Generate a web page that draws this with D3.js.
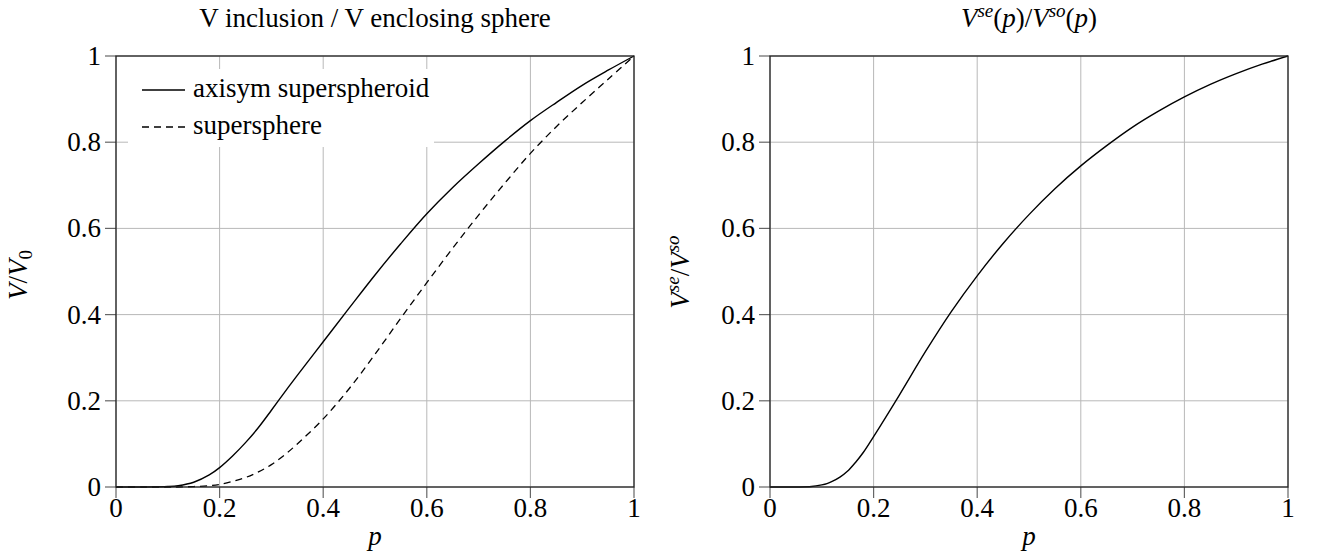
<!DOCTYPE html>
<html><head><meta charset="utf-8">
<script src="https://cdn.jsdelivr.net/npm/d3@7"></script>
<style>body{margin:0;background:#fff}svg{display:block}text{font-family:"Liberation Serif","DejaVu Serif",serif;fill:#000}</style>
</head><body><svg id="c" width="1317" height="556"></svg>
<script>
const tickValues = [0, 0.2, 0.4, 0.6, 0.8, 1];
const tickLabels = ["0", "0.2", "0.4", "0.6", "0.8", "1"];
const pLeft = [0, 0.05, 0.1, 0.12, 0.15, 0.18, 0.2, 0.225, 0.25, 0.275, 0.3, 0.325, 0.35, 0.4, 0.45, 0.5, 0.55, 0.6, 0.65, 0.7, 0.75, 0.8, 0.85, 0.9, 0.95, 1];
const axisymSuperspheroid = [0, 0, 0.001, 0.003, 0.011, 0.028, 0.045, 0.072, 0.103, 0.138, 0.178, 0.219, 0.259, 0.337, 0.415, 0.492, 0.565, 0.634, 0.695, 0.75, 0.802, 0.85, 0.892, 0.932, 0.967, 1];
const supersphere = [0, 0, 0, 0, 0.001, 0.003, 0.006, 0.013, 0.022, 0.035, 0.052, 0.074, 0.1, 0.158, 0.228, 0.308, 0.392, 0.474, 0.554, 0.631, 0.704, 0.774, 0.836, 0.892, 0.946, 1];
const pRight = [0, 0.05, 0.08, 0.1, 0.11, 0.12, 0.135, 0.15, 0.165, 0.18, 0.2, 0.25, 0.3, 0.35, 0.4, 0.45, 0.5, 0.55, 0.6, 0.65, 0.7, 0.75, 0.8, 0.85, 0.9, 0.95, 1];
const ratio = [0, 0, 0.001, 0.005, 0.008, 0.013, 0.023, 0.037, 0.057, 0.08, 0.117, 0.214, 0.314, 0.407, 0.49, 0.565, 0.632, 0.692, 0.745, 0.792, 0.835, 0.872, 0.905, 0.934, 0.959, 0.981, 1];

const svg = d3.select("#c");
const yTop = 56, yBot = 487;
const FS = 27, SUB = 19;
const DASH = "7,5";
const y = d3.scaleLinear().domain([0, 1]).range([yBot, yTop]);

function panel(x0, x1) {
  const x = d3.scaleLinear().domain([0, 1]).range([x0, x1]);
  const g = svg.append("g");
  g.selectAll(".gx").data(tickValues).join("line")
    .attr("x1", d => x(d)).attr("x2", d => x(d)).attr("y1", yTop).attr("y2", yBot)
    .attr("stroke", "#b8b8b8").attr("stroke-width", 1);
  g.selectAll(".gy").data(tickValues).join("line")
    .attr("y1", d => y(d)).attr("y2", d => y(d)).attr("x1", x0).attr("x2", x1)
    .attr("stroke", "#b8b8b8").attr("stroke-width", 1);
  g.selectAll(".tx").data(tickValues).join("line")
    .attr("x1", d => x(d)).attr("x2", d => x(d)).attr("y1", yBot).attr("y2", yBot + 11)
    .attr("stroke", "#666").attr("stroke-width", 1.2);
  g.selectAll(".ty").data(tickValues).join("line")
    .attr("y1", d => y(d)).attr("y2", d => y(d)).attr("x1", x0 - 11).attr("x2", x0)
    .attr("stroke", "#666").attr("stroke-width", 1.2);
  g.selectAll(".lx").data(tickValues).join("text")
    .attr("x", d => x(d)).attr("y", 517).attr("text-anchor", "middle")
    .attr("font-size", FS).text((d, i) => tickLabels[i]);
  g.selectAll(".ly").data(tickValues).join("text")
    .attr("x", x0 - 15).attr("y", d => y(d) + 9).attr("text-anchor", "end")
    .attr("font-size", FS).text((d, i) => tickLabels[i]);
  g.append("text").attr("x", (x0 + x1) / 2).attr("y", 545).attr("text-anchor", "middle")
    .attr("font-size", FS).attr("font-style", "italic").text("p");
  return {x, g};
}

function frame(g, x0, x1) {
  g.append("rect").attr("x", x0).attr("y", yTop).attr("width", x1 - x0).attr("height", yBot - yTop)
    .attr("fill", "none").attr("stroke", "#222").attr("stroke-width", 1.3);
}

const line = (x, xs) => d3.line().x((d, i) => x(xs[i])).y(d => y(d)).curve(d3.curveCatmullRom.alpha(0.5));

// Left panel
const L = panel(116, 634);
L.g.append("path").datum(supersphere).attr("d", line(L.x, pLeft)).attr("fill", "none")
  .attr("stroke", "#000").attr("stroke-width", 1.3).attr("stroke-dasharray", DASH);
L.g.append("path").datum(axisymSuperspheroid).attr("d", line(L.x, pLeft)).attr("fill", "none")
  .attr("stroke", "#000").attr("stroke-width", 1.4);
frame(L.g, 116, 634);
const lg = L.g.append("g");
lg.append("rect").attr("x", 128).attr("y", 69).attr("width", 306).attr("height", 78).attr("fill", "#fff");
const legItems = ["axisym superspheroid", "supersphere"];
const legDash = [null, DASH];
legItems.forEach((t, i) => {
  const yy = 90 + i * 37;
  lg.append("line").attr("x1", 142).attr("x2", 185).attr("y1", yy).attr("y2", yy)
    .attr("stroke", "#000").attr("stroke-width", 1.4).attr("stroke-dasharray", legDash[i]);
  lg.append("text").attr("x", 193).attr("y", yy + 7).attr("font-size", FS).text(t);
});
svg.append("text").attr("x", 375).attr("y", 27).attr("text-anchor", "middle").attr("font-size", FS)
  .text("V inclusion / V enclosing sphere");
const yl = svg.append("text").attr("transform", "translate(27,275) rotate(-90)").attr("text-anchor", "middle").attr("font-size", FS);
yl.append("tspan").attr("font-style", "italic").text("V");
yl.append("tspan").text("/");
yl.append("tspan").attr("font-style", "italic").text("V");
yl.append("tspan").attr("font-size", SUB).attr("dy", 5).text("0");

// Right panel
const R = panel(770, 1288);
R.g.append("path").datum(ratio).attr("d", line(R.x, pRight)).attr("fill", "none")
  .attr("stroke", "#000").attr("stroke-width", 1.4);
frame(R.g, 770, 1288);
const rt = svg.append("text").attr("x", 1029).attr("y", 27).attr("text-anchor", "middle").attr("font-size", FS).attr("font-style", "italic");
rt.append("tspan").text("V");
rt.append("tspan").attr("font-size", SUB).attr("dy", -10).text("se");
rt.append("tspan").attr("dy", 10).attr("font-style", "normal").text("(");
rt.append("tspan").text("p");
rt.append("tspan").attr("font-style", "normal").text(")/");
rt.append("tspan").text("V");
rt.append("tspan").attr("font-size", SUB).attr("dy", -10).text("so");
rt.append("tspan").attr("dy", 10).attr("font-style", "normal").text("(");
rt.append("tspan").text("p");
rt.append("tspan").attr("font-style", "normal").text(")");
const ry = svg.append("text").attr("transform", "translate(689,272) rotate(-90)").attr("text-anchor", "middle").attr("font-size", FS).attr("font-style", "italic");
ry.append("tspan").text("V");
ry.append("tspan").attr("font-size", SUB).attr("dy", -10).text("se");
ry.append("tspan").attr("dy", 10).attr("font-style", "normal").text("/");
ry.append("tspan").text("V");
ry.append("tspan").attr("font-size", SUB).attr("dy", -10).text("so");
</script></body></html>
